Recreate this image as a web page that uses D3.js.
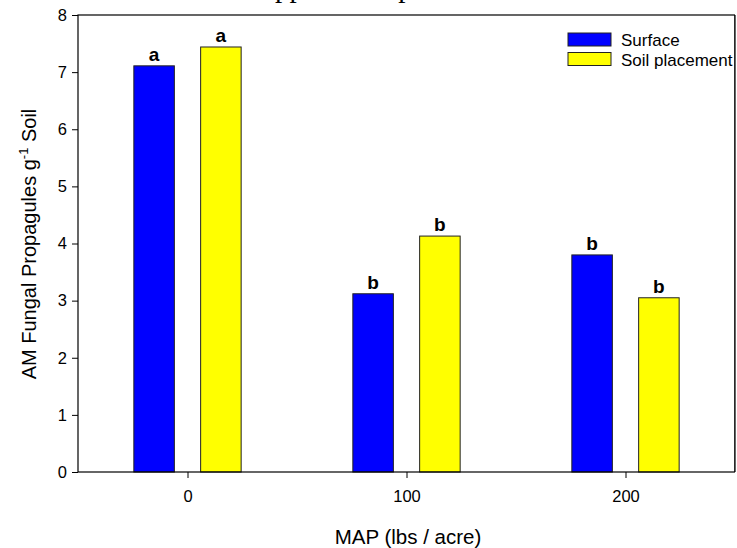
<!DOCTYPE html>
<html><head><meta charset="utf-8">
<script src="https://cdn.jsdelivr.net/npm/d3@7"></script>
<style>body{margin:0;background:#fff}svg{display:block}</style>
</head><body>
<svg id="c" width="737" height="548"></svg>
<script>
const categories = [0, 100, 200];
const seriesNames = ["Surface", "Soil placement"];
const surface = [7.11, 3.12, 3.80];
const soilPlacement = [7.44, 4.13, 3.05];
const surfaceLetters = ["a", "b", "b"];
const soilLetters = ["a", "b", "b"];
const yTicks = [0, 1, 2, 3, 4, 5, 6, 7, 8];
const xTicks = [0, 100, 200];
const colors = ["#0000ff", "#ffff00"];

const svg = d3.select("#c");
const L = 78, R = 735, T = 15, B = 472;
const x = d3.scaleLinear().domain([-50, 250]).range([L, R]);
const y = d3.scaleLinear().domain([0, 8]).range([B, T]);
const SANS = "Liberation Sans, Arial, sans-serif";

// title (clipped at the top edge, as in the reference)
svg.append("text").attr("x", 254).attr("y", -3)
  .attr("font-family", "Liberation Serif, Times New Roman, serif")
  .attr("font-size", 29).text("Application placement");

const barW = 18.5, off = 6;
const series = [
  {vals: surface, letters: surfaceLetters, x0: -off - barW},
  {vals: soilPlacement, letters: soilLetters, x0: off}
];
series.forEach((s, si) => {
  const g = svg.append("g");
  g.selectAll("rect").data(categories).join("rect")
    .attr("x", (c) => x(c + s.x0))
    .attr("width", (c) => x(c + s.x0 + barW) - x(c + s.x0))
    .attr("y", (c, i) => y(s.vals[i]))
    .attr("height", (c, i) => y(0) - y(s.vals[i]))
    .attr("fill", colors[si]).attr("stroke", "#222").attr("stroke-width", 1);
  g.selectAll("text").data(categories).join("text")
    .attr("x", (c) => x(c + s.x0 + barW / 2))
    .attr("y", (c, i) => y(s.vals[i]) - 5)
    .attr("text-anchor", "middle")
    .attr("font-family", SANS)
    .attr("font-weight", "bold").attr("font-size", 19)
    .text((c, i) => s.letters[i]);
});

// frame
svg.append("rect").attr("x", L).attr("y", T).attr("width", R - L).attr("height", B - T)
  .attr("fill", "none").attr("stroke", "#000").attr("stroke-width", 1.2);

const ya = svg.append("g").attr("transform", `translate(${L},0)`)
  .call(d3.axisLeft(y).tickValues(yTicks).tickSize(6).tickPadding(5).tickFormat(d3.format("d")));
const xa = svg.append("g").attr("transform", `translate(0,${B})`)
  .call(d3.axisBottom(x).tickValues(xTicks).tickSize(6).tickPadding(12).tickFormat(d3.format("d")));
[ya, xa].forEach(a => {
  a.select(".domain").remove();
  a.selectAll("line").attr("stroke", "#000");
  a.selectAll("text").attr("font-family", SANS)
    .attr("font-size", 16.5).attr("fill", "#000");
});

svg.append("text").attr("x", 408).attr("y", 544).attr("text-anchor", "middle")
  .attr("font-family", SANS).attr("font-size", 20.5)
  .text("MAP (lbs / acre)");

const yt = svg.append("text").attr("transform", "translate(36,244) rotate(-90)")
  .attr("text-anchor", "middle")
  .attr("font-family", SANS).attr("font-size", 20);
yt.append("tspan").text("AM Fungal Propagules g");
yt.append("tspan").attr("dy", -8).attr("font-size", 13).text("-1");
yt.append("tspan").attr("dy", 8).text(" Soil");

// legend
const lg = svg.append("g");
seriesNames.forEach((n, i) => {
  lg.append("rect").attr("x", 568).attr("y", 33 + i * 19.5).attr("width", 43).attr("height", 13)
    .attr("fill", colors[i]).attr("stroke", "#222").attr("stroke-width", 1);
  lg.append("text").attr("x", 621).attr("y", 46 + i * 19.5)
    .attr("font-family", SANS).attr("font-size", 17)
    .text(n);
});
// right frame edge drawn over the legend text, which it clips
svg.append("rect").attr("x", R).attr("y", T - 1).attr("width", 5).attr("height", B - T + 2).attr("fill", "#fff");
svg.append("line").attr("x1", R).attr("x2", R).attr("y1", T).attr("y2", B).attr("stroke", "#000").attr("stroke-width", 1.2);
</script>
</body></html>
